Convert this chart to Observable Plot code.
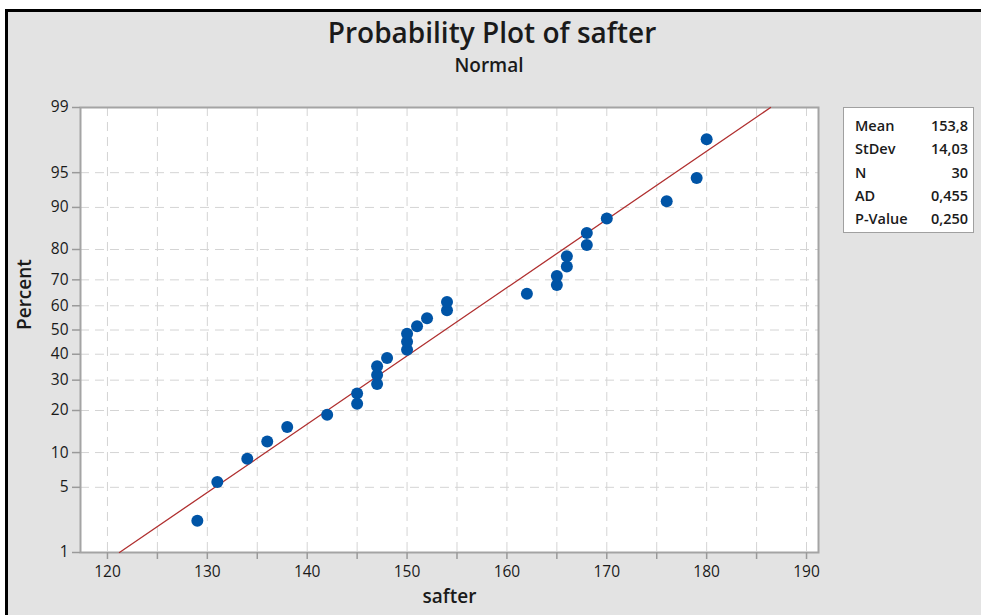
<!DOCTYPE html>
<html>
<head>
<meta charset="utf-8">
<script src="https://cdn.jsdelivr.net/npm/d3@7"></script>
<script src="https://cdn.jsdelivr.net/npm/@observablehq/plot@0.6"></script>
<style>
  html, body { margin: 0; padding: 0; background: #ffffff; width: 981px; height: 615px; overflow: hidden; }
  #frame { position: absolute; left: 5px; top: 9px; width: 976px; height: 606px; box-sizing: border-box;
           border-top: 3px solid #000; border-left: 3px solid #000; background: #e3e3e3; }
  .t { position: absolute; font-family: "Open Sans", "Noto Sans", sans-serif; color: #1a1a1a; white-space: nowrap; }
  #title { left: 492px; top: 14px; transform: translateX(-50%); font-size: 28px; font-weight: 600; line-height: 36px; }
  #subtitle { left: 489px; top: 52px; transform: translateX(-50%); font-size: 19px; font-weight: 600; line-height: 26px; }
  #chart { position: absolute; left: 0; top: 90px; }
  #legend { position: absolute; left: 843px; top: 107px; width: 131px; height: 126px; box-sizing: border-box;
            background: #fff; border: 1px solid #a0a0a0; padding: 7px 5px 0 11px;
            font-family: "Open Sans", "Noto Sans", sans-serif; font-size: 14.5px; font-weight: 600; color: #1a1a1a; }
  #legend .row { display: flex; justify-content: space-between; height: 23.3px; line-height: 22px; }
</style>
</head>
<body>
<div id="frame"></div>
<div class="t" id="title">Probability Plot of safter</div>
<div class="t" id="subtitle">Normal</div>
<div id="chart"></div>
<div id="legend"></div>
<script>
// ---- data ----
const safter = [129, 131, 134, 136, 138, 142, 145, 145, 147, 147, 147, 148, 150, 150, 150,
                151, 152, 154, 154, 162, 165, 165, 166, 166, 168, 168, 170, 176, 179, 180];
const percent = [2.3, 5.6, 8.9, 12.2, 15.5, 18.8, 22.0, 25.3, 28.6, 31.9, 35.2, 38.5, 41.8, 45.1, 48.4,
                 51.6, 54.9, 58.2, 61.5, 64.8, 68.1, 71.4, 74.7, 78.0, 81.3, 84.5, 87.8, 91.1, 94.4, 97.7];
const fitX = [121.2, 186.4];
const fitPercent = [1, 99];
const yTickLabels = [1, 5, 10, 20, 30, 40, 50, 60, 70, 80, 90, 95, 99];
const xTickLabels = [120, 130, 140, 150, 160, 170, 180, 190];
const xGridTicks = [120, 125, 130, 135, 140, 145, 150, 155, 160, 165, 170, 175, 180, 185, 190];
const statNames = ["Mean", "StDev", "N", "AD", "P-Value"];
const statValues = ["153,8", "14,03", "30", "0,455", "0,250"];

// inverse normal CDF (probability-scale transform)
function probit(p) {
  const a = [-3.969683028665376e+01, 2.209460984245205e+02, -2.759285104469687e+02, 1.383577518672690e+02, -3.066479806614716e+01, 2.506628277459239e+00];
  const b = [-5.447609879822406e+01, 1.615858368580409e+02, -1.556989798598866e+02, 6.680131188771972e+01, -1.328068155288572e+01];
  const c = [-7.784894002430293e-03, -3.223964580411365e-01, -2.400758277161838e+00, -2.549671010115819e+00, 4.374664141464968e+00, 2.938163982698783e+00];
  const d = [7.784695709041462e-03, 3.224671290700398e-01, 2.445134137142996e+00, 3.754408661907416e+00];
  const plow = 0.02425;
  let q, r;
  if (p < plow) {
    q = Math.sqrt(-2 * Math.log(p));
    return (((((c[0]*q+c[1])*q+c[2])*q+c[3])*q+c[4])*q+c[5]) / ((((d[0]*q+d[1])*q+d[2])*q+d[3])*q+1);
  } else if (p > 1 - plow) {
    q = Math.sqrt(-2 * Math.log(1 - p));
    return -(((((c[0]*q+c[1])*q+c[2])*q+c[3])*q+c[4])*q+c[5]) / ((((d[0]*q+d[1])*q+d[2])*q+d[3])*q+1);
  }
  q = p - 0.5; r = q * q;
  return (((((a[0]*r+a[1])*r+a[2])*r+a[3])*r+a[4])*r+a[5])*q / (((((b[0]*r+b[1])*r+b[2])*r+b[3])*r+b[4])*r+1);
}

const points = safter.map((x, i) => ({x, z: probit(percent[i] / 100)}));
const fit = fitX.map((x, i) => ({x, z: probit(fitPercent[i] / 100)}));
const zTicks = yTickLabels.map(t => probit(t / 100));
const zLabel = new Map(zTicks.map((z, i) => [z, String(yTickLabels[i])]));

const chart = Plot.plot({
  width: 981,
  height: 525,
  marginLeft: 80,
  marginRight: 163,
  marginTop: 17,
  marginBottom: 63,
  style: {background: "transparent", fontFamily: "Open Sans, Noto Sans, sans-serif", fontSize: "15.5px", color: "#1a1a1a"},
  x: {domain: [117.3, 191.2], nice: false},
  y: {domain: [zTicks[0], zTicks[zTicks.length - 1]], nice: false},
  marks: [
    Plot.frame({fill: "#ffffff", stroke: "none"}),
    Plot.gridX(xGridTicks, {stroke: "#d4d4d4", strokeOpacity: 1, strokeDasharray: "9,6"}),
    Plot.gridY(zTicks, {stroke: "#d4d4d4", strokeOpacity: 1, strokeDasharray: "9,6"}),
    Plot.frame({stroke: "#a4a4a4", strokeWidth: 2}),
    Plot.axisX(xGridTicks, {tickSize: 7, tickPadding: 6, stroke: "#9a9a9a", strokeWidth: 1.5, fontWeight: 500,
      tickFormat: d => xTickLabels.includes(d) ? String(d) : "", label: null}),
    Plot.axisY(zTicks, {tickSize: 8, tickPadding: 4, stroke: "#9a9a9a", strokeWidth: 1.5, fontWeight: 500,
      tickFormat: z => zLabel.get(z), label: null}),
    Plot.line(fit, {x: "x", y: "z", stroke: "#b03030", strokeWidth: 1.3}),
    Plot.dot(points, {x: "x", y: "z", r: 6, fill: "#0054a6", stroke: "none"}),
    Plot.text(["Percent"], {frameAnchor: "left", dx: -56, rotate: -90, fontSize: 19, fontWeight: 600, fill: "#1a1a1a"}),
    Plot.text(["safter"], {frameAnchor: "bottom", dy: 50, fontSize: 19, fontWeight: 600, fill: "#1a1a1a"})
  ]
});
document.getElementById("chart").appendChild(chart);

const legend = document.getElementById("legend");
statNames.forEach((n, i) => {
  const row = document.createElement("div");
  row.className = "row";
  row.innerHTML = `<span>${n}</span><span>${statValues[i]}</span>`;
  legend.appendChild(row);
});
</script>
</body>
</html>
